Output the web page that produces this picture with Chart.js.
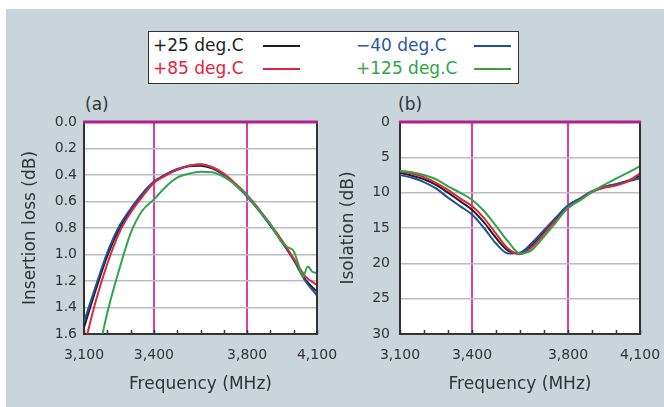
<!DOCTYPE html>
<html>
<head>
<meta charset="utf-8">
<script src="https://cdn.jsdelivr.net/npm/chart.js@4"></script>
<style>
  html, body { margin: 0; padding: 0; background: #fff; }
  #wrap { position: relative; width: 664px; height: 407px; overflow: hidden; font-family: "DejaVu Sans", sans-serif; }
  #bg { position: absolute; left: 6px; top: 9px; right: 0; bottom: 0; background: #c9d5db; }
  canvas { position: absolute; top: 0; }
  #legend { position: absolute; left: 148px; top: 31px; width: 369px; height: 51px; background: #fff; border: 1.5px solid #333; }
  .lt { position: absolute; font-size: 17px; line-height: 20px; white-space: nowrap; }
  .ll { position: absolute; height: 2px; width: 37px; }
  .pl { position: absolute; font-size: 17px; line-height: 20px; color: #333; }
</style>
</head>
<body>
<div id="wrap">
  <div id="bg"></div>
  <div id="legend">
    <span class="lt" style="left:4px;top:3px;color:#231f20">+25 deg.C</span>
    <span class="ll" style="left:114px;top:13px;background:#231f20"></span>
    <span class="lt" style="left:207px;top:3px;color:#2a58a6">&minus;40 deg.C</span>
    <span class="ll" style="left:325px;top:13px;background:#1f4f9e"></span>
    <span class="lt" style="left:4px;top:26px;color:#e3243b">+85 deg.C</span>
    <span class="ll" style="left:114px;top:36px;background:#e3243b"></span>
    <span class="lt" style="left:207px;top:26px;color:#2fa548">+125 deg.C</span>
    <span class="ll" style="left:325px;top:36px;background:#2fa548"></span>
  </div>
  <div class="pl" style="left:85px;top:94px">(a)</div>
  <div class="pl" style="left:398px;top:94px">(b)</div>
  <canvas id="chartA" width="340" height="407" style="left:0"></canvas>
  <canvas id="chartB" width="334" height="407" style="left:330px"></canvas>
</div>
<script>
// frequencies (MHz), 50 MHz steps
const freq = [3100, 3150, 3200, 3250, 3300, 3350, 3400, 3450, 3500, 3550, 3600,
              3650, 3700, 3750, 3800, 3850, 3900, 3950, 4000, 4050, 4100];

// (a) insertion loss (dB)
const lossP25 = [1.55, 1.27, 1.01, 0.81, 0.665, 0.55, 0.455, 0.40, 0.36, 0.335, 0.33,
                 0.35, 0.40, 0.475, 0.56, 0.665, 0.78, 0.905, 1.04, 1.19, 1.28];
const lossM40 = [1.51, 1.24, 0.985, 0.79, 0.655, 0.54, 0.45, 0.395, 0.355, 0.33, 0.32,
                 0.345, 0.40, 0.475, 0.56, 0.665, 0.78, 0.905, 1.04, 1.20, 1.31];
const lossP85 = [1.70, 1.355, 1.07, 0.84, 0.685, 0.565, 0.46, 0.405, 0.36, 0.33, 0.318,
                 0.34, 0.39, 0.465, 0.55, 0.655, 0.77, 0.895, 1.03, 1.165, 1.23];
// +125 has a wobble near the top of the band, so it has extra points there
const freqP125 = [3100, 3150, 3200, 3250, 3300, 3350, 3400, 3450, 3500, 3550, 3600,
                  3650, 3700, 3750, 3800, 3850, 3900, 3950, 3975, 4000, 4025, 4040, 4060, 4080, 4100];
const lossP125 = [2.3, 1.85, 1.44, 1.12, 0.84, 0.67, 0.585, 0.49, 0.42, 0.39, 0.375,
                  0.38, 0.415, 0.475, 0.555, 0.665, 0.775, 0.91, 0.945, 0.975, 1.10, 1.17, 1.09, 1.13, 1.14];

// (b) isolation (dB)
const isoP25  = [7.2, 7.6, 8.1, 8.9, 10.0, 11.2, 12.4, 14.2, 16.4, 18.2, 18.6,
                 17.4, 15.6, 13.7, 12.0, 10.9, 9.9, 9.2, 8.8, 8.3, 7.6];
const isoM40  = [7.5, 7.9, 8.5, 9.4, 10.7, 11.9, 13.1, 15.0, 17.2, 18.6, 18.5,
                 17.1, 15.3, 13.5, 11.8, 10.8, 9.8, 9.2, 8.8, 8.4, 7.95];
const isoP85  = [7.0, 7.3, 7.8, 8.6, 9.6, 10.8, 11.9, 13.6, 15.8, 17.9, 18.7,
                 17.7, 15.8, 13.9, 12.2, 11.0, 9.9, 9.3, 9.0, 8.4, 7.25];
const isoP125 = [6.9, 7.1, 7.5, 8.1, 9.1, 10.0, 11.0, 12.6, 14.7, 16.9, 18.6,
                 18.1, 16.2, 14.2, 12.1, 11.1, 9.9, 8.9, 8.0, 7.15, 6.25];

const xLabelTicks = [3100, 3400, 3800, 4100];
const markerFreqs = [3400, 3800];

const C25 = '#231f20', CM40 = '#1f4f9e', C85 = '#e3243b', C125 = '#2fa548';
const FONT = 'DejaVu Sans';

function pts(xs, ys) {
  return xs.map((x, i) => ({ x: x, y: ys[i] }));
}

function fmtThousands(v) {
  return String(v).replace(/\B(?=(\d{3})+(?!\d))/g, ',');
}

// white plot area, right border, little inside ticks on the bottom axis
const framePlugin = {
  id: 'frame',
  beforeDraw(chart) {
    const a = chart.chartArea, ctx = chart.ctx;
    ctx.save();
    ctx.fillStyle = '#fff';
    ctx.fillRect(a.left, a.top, a.right - a.left, a.bottom - a.top);
    ctx.restore();
  },
  beforeDatasetsDraw(chart) {
    const a = chart.chartArea, ctx = chart.ctx, xs = chart.scales.x;
    ctx.save();
    ctx.strokeStyle = '#333';
    ctx.lineWidth = 1.5;
    xs.ticks.forEach(t => {
      const px = Math.round(xs.getPixelForValue(t.value)) + 0.5;
      ctx.beginPath();
      ctx.moveTo(px, a.bottom);
      ctx.lineTo(px, a.bottom - 4);
      ctx.stroke();
    });
    ctx.restore();
  },
  afterDatasetsDraw(chart) {
    const a = chart.chartArea, ctx = chart.ctx;
    ctx.save();
    ctx.strokeStyle = '#333';
    ctx.lineWidth = 2;
    ctx.beginPath();
    ctx.moveTo(a.right, a.top);
    ctx.lineTo(a.right, a.bottom + 1);
    ctx.stroke();
    ctx.strokeStyle = '#b0208a';
    ctx.lineWidth = 3;
    ctx.beginPath();
    ctx.moveTo(a.left - 1, a.top);
    ctx.lineTo(a.right + 1, a.top);
    ctx.stroke();
    ctx.restore();
  }
};

function makeChart(id, sets, y) {
  return new Chart(document.getElementById(id), {
    type: 'line',
    data: {
      datasets: sets.map(s => ({
        label: s.label,
        data: s.data,
        borderColor: s.color,
        borderWidth: 2,
        pointRadius: 0,
        cubicInterpolationMode: 'monotone',
        fill: false,
        order: s.order
      }))
    },
    options: {
      responsive: false,
      animation: false,
      events: [],
      layout: { padding: { top: 122, right: y.rightPad, bottom: 0, left: 0 } },
      plugins: { legend: { display: false }, tooltip: { enabled: false } },
      scales: {
        x: {
          type: 'linear',
          min: 3100,
          max: 4100,
          afterFit: s => { s.height = 73; s.paddingLeft = 0; s.paddingRight = 0; },
          ticks: {
            stepSize: 100,
            autoSkip: false,
            maxRotation: 0,
            padding: 13,
            color: '#333',
            font: { family: FONT, size: 14 },
            callback: v => xLabelTicks.includes(v) ? fmtThousands(v) : ''
          },
          grid: {
            drawTicks: false,
            lineWidth: 2,
            color: c => (c.tick && markerFreqs.includes(c.tick.value)) ? '#e23c9e' : 'rgba(0,0,0,0)'
          },
          border: { display: true, color: '#333', width: 2 },
          title: {
            display: true,
            text: 'Frequency (MHz)',
            color: '#333',
            font: { family: FONT, size: 17 },
            padding: { top: 0, bottom: 12 }
          }
        },
        y: {
          reverse: true,
          min: 0,
          max: y.max,
          afterFit: s => { s.width = y.width; s.paddingTop = 0; s.paddingBottom = 0; },
          ticks: {
            stepSize: y.step,
            padding: y.tickPad,
            color: '#333',
            font: { family: FONT, size: 14 },
            callback: y.fmt
          },
          grid: {
            drawTicks: false,
            lineWidth: 1.5,
            color: c => (c.tick && c.tick.value === 0) ? 'rgba(0,0,0,0)' : '#b8bcc4'
          },
          border: { display: true, color: '#333', width: 2 },
          title: {
            display: true,
            text: y.title,
            color: '#333',
            font: { family: FONT, size: 17 },
            padding: { top: y.titlePad, bottom: 0 }
          }
        }
      }
    },
    plugins: [framePlugin]
  });
}

makeChart('chartA', [
  { label: '+25 deg.C', data: pts(freq, lossP25), color: C25, order: 3 },
  { label: '\u221240 deg.C', data: pts(freq, lossM40), color: CM40, order: 2 },
  { label: '+85 deg.C', data: pts(freq, lossP85), color: C85, order: 1 },
  { label: '+125 deg.C', data: pts(freqP125, lossP125), color: C125, order: 0 }
], {
  title: 'Insertion loss (dB)', max: 1.6, step: 0.2, fmt: v => v.toFixed(1),
  width: 84, tickPad: 7, titlePad: 20, rightPad: 23
});

makeChart('chartB', [
  { label: '+25 deg.C', data: pts(freq, isoP25), color: C25, order: 3 },
  { label: '\u221240 deg.C', data: pts(freq, isoM40), color: CM40, order: 2 },
  { label: '+85 deg.C', data: pts(freq, isoP85), color: C85, order: 1 },
  { label: '+125 deg.C', data: pts(freq, isoP125), color: C125, order: 0 }
], {
  title: 'Isolation (dB)', max: 30, step: 5, fmt: v => String(Math.round(v)),
  width: 70, tickPad: 10, titlePad: 8, rightPad: 24
});
</script>
</body>
</html>
